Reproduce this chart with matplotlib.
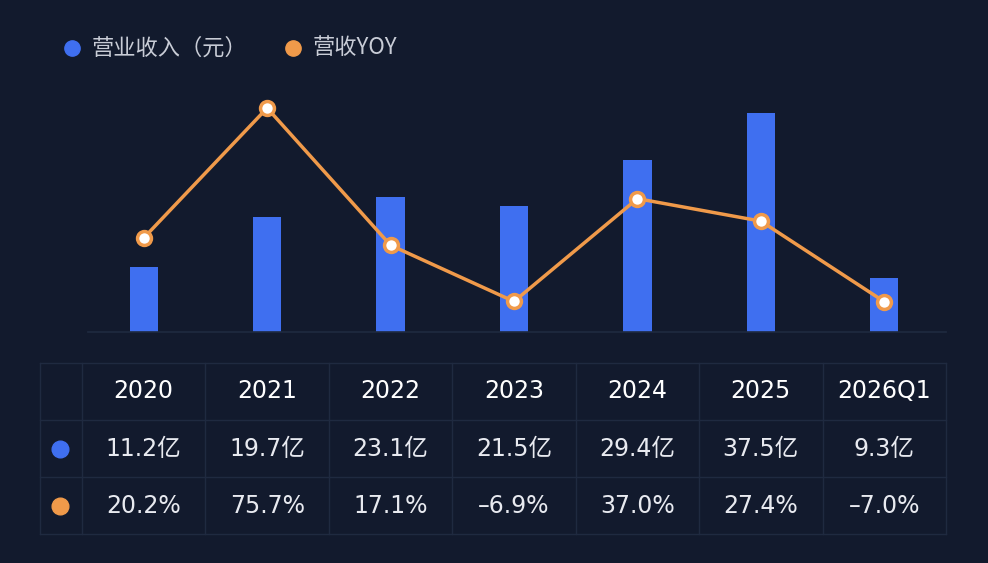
import matplotlib.pyplot as plt
from matplotlib.lines import Line2D

plt.rcParams['font.family'] = ['Noto Sans CJK SC', 'DejaVu Sans']

years = ['2020', '2021', '2022', '2023', '2024', '2025', '2026Q1']
revenue = [11.2, 19.7, 23.1, 21.5, 29.4, 37.5, 9.3]  # 亿元
yoy = [20.2, 75.7, 17.1, -6.9, 37.0, 27.4, -7.0]  # %

BG = '#121a2d'
BLUE = '#3f6ff0'
ORANGE = '#f09a4a'
GRID = '#1f2a40'
W, H = 988, 563
NUM_FONT = ['DejaVu Sans', 'Noto Sans CJK SC']

fig = plt.figure(figsize=(W / 100, H / 100), dpi=100, facecolor=BG)

# bar / line area: x 82..946 px, y 90..332 px
left, right, top, base = 82, 946, 90, 332
ax = fig.add_axes([left / W, (H - base) / H, (right - left) / W, (base - top) / H])
ax.set_facecolor('none')
x = list(range(len(years)))
ax.bar(x, revenue, width=0.23, color=BLUE)
ax.set_xlim(-0.5, len(years) - 0.5)
ax.set_ylim(0, (base - top) / 5.84)
ax.axis('off')

ax2 = ax.twinx()
ax2.plot(x, yoy, color=ORANGE, lw=2.5, marker='o', ms=10,
         mfc='white', mec=ORANGE, mew=2.5, zorder=5)
ax2.set_ylim(-(base - 285.3) / 2.342, (285.3 - top) / 2.342)
ax2.axis('off')

# table and decorations in pixel coordinates
ov = fig.add_axes([0, 0, 1, 1])
ov.set_xlim(0, W)
ov.set_ylim(H, 0)
ov.axis('off')
ov.add_line(Line2D([88, 946], [332, 332], color=GRID, lw=1.2))

rows_y = [363, 420, 477, 534]
for yy in rows_y:
    ov.add_line(Line2D([40, 946], [yy, yy], color=GRID, lw=1))
col_w = (right - left) / len(years)
for i in range(len(years) + 1):
    xx = left + i * col_w
    ov.add_line(Line2D([xx, xx], [363, 534], color=GRID, lw=1))
ov.add_line(Line2D([40, 40], [363, 534], color=GRID, lw=1))

for i, yr in enumerate(years):
    cx = left + (i + 0.5) * col_w
    ov.text(cx, 391, yr, color='white', fontsize=17, ha='center', va='center',
            family=NUM_FONT, weight='medium')
    ov.text(cx, 449, f'{revenue[i]}亿', color='#e8eaf0', fontsize=17,
            ha='center', va='center', family=NUM_FONT)
    ov.text(cx, 506, f'{yoy[i]:.1f}%'.replace('-', '–'), color='#e8eaf0',
            fontsize=17, ha='center', va='center', family=NUM_FONT)
ov.plot([60], [449], 'o', ms=12, color=BLUE)
ov.plot([60], [506], 'o', ms=12, color=ORANGE)

# legend
ov.plot([72], [48], 'o', ms=11, color=BLUE)
ov.text(92, 48, '营业收入（元）', color='#c8ccd6', fontsize=16, va='center')
ov.plot([293], [48], 'o', ms=11, color=ORANGE)
ov.text(313, 48, '营收YOY', color='#c8ccd6', fontsize=16, va='center')

fig.savefig('out.png', dpi=100, facecolor=BG)
